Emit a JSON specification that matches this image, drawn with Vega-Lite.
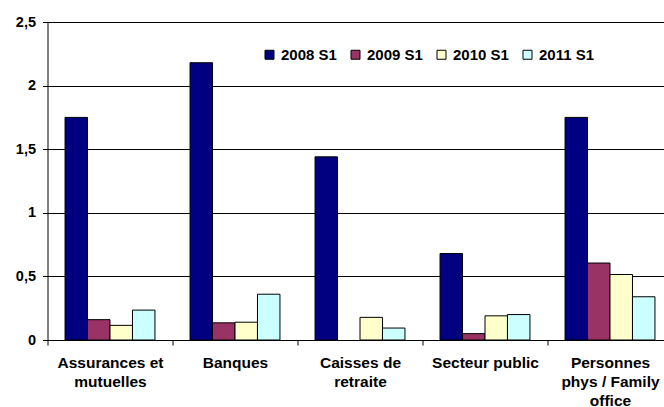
{
  "$schema": "https://vega.github.io/schema/vega-lite/v6.json",
  "width": 616.5,
  "height": 318,
  "autosize": {"type": "none"},
  "padding": {"left": 47.5, "top": 22, "right": 0, "bottom": 67},
  "background": "white",
  "config": {
    "view": {"stroke": null},
    "font": "Liberation Sans"
  },
  "data": {
    "values": [
      {"categorie": "Assurances et mutuelles", "serie": "2008 S1", "valeur": 1.75},
      {"categorie": "Assurances et mutuelles", "serie": "2009 S1", "valeur": 0.16},
      {"categorie": "Assurances et mutuelles", "serie": "2010 S1", "valeur": 0.115},
      {"categorie": "Assurances et mutuelles", "serie": "2011 S1", "valeur": 0.235},
      {"categorie": "Banques", "serie": "2008 S1", "valeur": 2.18},
      {"categorie": "Banques", "serie": "2009 S1", "valeur": 0.135},
      {"categorie": "Banques", "serie": "2010 S1", "valeur": 0.14},
      {"categorie": "Banques", "serie": "2011 S1", "valeur": 0.36},
      {"categorie": "Caisses de retraite", "serie": "2008 S1", "valeur": 1.44},
      {"categorie": "Caisses de retraite", "serie": "2010 S1", "valeur": 0.178},
      {"categorie": "Caisses de retraite", "serie": "2011 S1", "valeur": 0.094},
      {"categorie": "Secteur public", "serie": "2008 S1", "valeur": 0.68},
      {"categorie": "Secteur public", "serie": "2009 S1", "valeur": 0.05},
      {"categorie": "Secteur public", "serie": "2010 S1", "valeur": 0.19},
      {"categorie": "Secteur public", "serie": "2011 S1", "valeur": 0.2},
      {"categorie": "Personnes phys / Family office", "serie": "2008 S1", "valeur": 1.75},
      {"categorie": "Personnes phys / Family office", "serie": "2009 S1", "valeur": 0.605},
      {"categorie": "Personnes phys / Family office", "serie": "2010 S1", "valeur": 0.515},
      {"categorie": "Personnes phys / Family office", "serie": "2011 S1", "valeur": 0.34}
    ]
  },
  "mark": {"type": "bar", "stroke": "black", "strokeWidth": 1},
  "encoding": {
    "x": {
      "field": "categorie",
      "type": "nominal",
      "sort": ["Assurances et mutuelles", "Banques", "Caisses de retraite", "Secteur public", "Personnes phys / Family office"],
      "scale": {"paddingInner": 0, "paddingOuter": 0, "range": [0, 625]},
      "axis": {
        "title": null,
        "labelAngle": 0,
        "tickBand": "extent",
        "ticks": true,
        "tickSize": 5,
        "tickColor": "black",
        "domainColor": "black",
        "grid": false,
        "labelFont": "Liberation Sans",
        "labelFontSize": 15.5,
        "labelFontWeight": "bold",
        "labelColor": "black",
        "labelPadding": 10,
        "labelLineHeight": 19,
        "labelLimit": 0,
        "labelExpr": "datum.label == 'Assurances et mutuelles' ? ['Assurances et', 'mutuelles'] : datum.label == 'Caisses de retraite' ? ['Caisses de', 'retraite'] : datum.label == 'Personnes phys / Family office' ? ['Personnes', 'phys / Family', 'office'] : datum.label"
      }
    },
    "xOffset": {
      "field": "serie",
      "type": "nominal",
      "scale": {"paddingInner": 0, "paddingOuter": 0.78}
    },
    "y": {
      "field": "valeur",
      "type": "quantitative",
      "scale": {"domain": [0, 2.5], "nice": false},
      "axis": {
        "title": null,
        "values": [0, 0.5, 1, 1.5, 2, 2.5],
        "grid": true,
        "gridColor": "black",
        "gridOpacity": 1,
        "gridWidth": 1,
        "domainColor": "black",
        "tickColor": "black",
        "tickSize": 5,
        "labelFont": "Liberation Sans",
        "labelFontSize": 14.5,
        "labelFontWeight": "bold",
        "labelColor": "black",
        "labelPadding": 7,
        "labelExpr": "replace(format(datum.value, '~g'), '.', ',')"
      }
    },
    "color": {
      "field": "serie",
      "type": "nominal",
      "scale": {
        "domain": ["2008 S1", "2009 S1", "2010 S1", "2011 S1"],
        "range": ["#000080", "#993366", "#FFFFCC", "#CCFFFF"]
      },
      "legend": {
        "title": null,
        "orient": "none",
        "direction": "horizontal",
        "legendX": 214.5,
        "legendY": 25,
        "symbolType": "square",
        "symbolSize": 81,
        "symbolStrokeColor": "black",
        "symbolStrokeWidth": 1,
        "symbolOpacity": 1,
        "labelFont": "Liberation Sans",
        "labelFontSize": 15,
        "labelFontWeight": "bold",
        "labelColor": "black",
        "labelOffset": 4,
        "columnPadding": 11
      }
    }
  }
}
